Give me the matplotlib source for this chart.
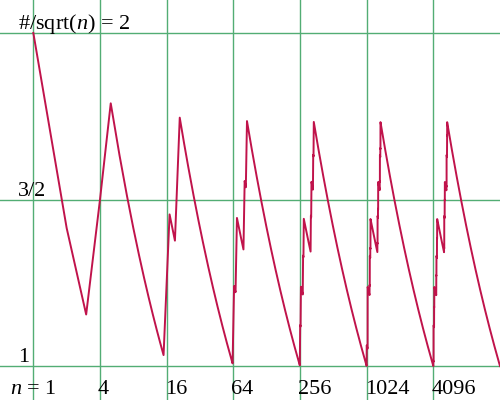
import numpy as np
import matplotlib.pyplot as plt

# n where the count "#" changes, and the count from that n on
run_start = [1,
             4, 5,
             16, 17, 20, 21,
             64, 65, 68, 69, 80, 81, 84, 85,
             256, 257, 260, 261, 272, 273, 276, 277,
             320, 321, 324, 325, 336, 337, 340, 341,
             1024, 1025, 1045, 1088, 1093, 1104, 1109,
             1280, 1285, 1296, 1301, 1344, 1349, 1360, 1365,
             4096, 4117, 4160, 4165, 4176, 4181,
             4352, 4357, 4368, 4373, 4416, 4421, 4432, 4437,
             5120, 5141, 5184, 5189, 5200, 5205,
             5376, 5397, 5440, 5445, 5456, 5461]
run_count = [2,
             3, 4,
             5, 6, 7, 8,
             9, 10, 11, 12, 13, 14, 15, 16,
             17, 18, 19, 20, 21, 22, 23, 24,
             25, 26, 27, 28, 29, 30, 31, 32,
             33, 34, 40, 41, 44, 45, 48,
             49, 52, 53, 56, 57, 60, 61, 64,
             65, 72, 73, 76, 77, 80,
             81, 84, 85, 88, 89, 92, 93, 96,
             97, 104, 105, 108, 109, 112,
             113, 120, 121, 124, 125, 128]
n_last = 16383

x_ticks = [1, 4, 16, 64, 256, 1024, 4096]
x_labels = ["$n$ = 1", "4", "16", "64", "256", "1024", "4096"]
y_ticks = [1, 1.5, 2]
y_labels = ["1", "3/2", "#/sqrt($n$) = 2"]

plt.rcParams['font.family'] = 'Liberation Serif'
plt.rcParams['mathtext.fontset'] = 'custom'
plt.rcParams['mathtext.rm'] = 'Liberation Serif'
plt.rcParams['mathtext.it'] = 'Liberation Serif:italic'

# expand the runs to every integer n
ends = run_start[1:] + [n_last + 1]
n_all, cnt_all = [], []
for s, e, c in zip(run_start, ends, run_count):
    nn = np.arange(s, e)
    n_all.append(nn)
    cnt_all.append(np.full(len(nn), c))
n_all = np.concatenate(n_all)
cnt_all = np.concatenate(cnt_all)
ratio = cnt_all / np.sqrt(n_all)

fig = plt.figure(figsize=(5, 4), dpi=100)
ax = fig.add_axes([0, 0, 1, 1])
ax.set_xscale('log', base=4)
ax.set_xlim(0.5, 16384)
ax.set_ylim(0.898, 2.099)
ax.axis('off')

grid_col = '#52ad74'
for t in x_ticks:
    ax.axvline(t, color=grid_col, lw=1.0, zorder=1)
for t in y_ticks:
    ax.axhline(t, color=grid_col, lw=1.0, zorder=1)

ax.plot(n_all, ratio, color='#c0134b', lw=1.4, zorder=2)

for i, (t, lab) in enumerate(zip(x_ticks, x_labels)):
    if i == 0:
        ax.annotate(lab, xy=(t, 0), xycoords=('data', 'axes fraction'),
                    xytext=(0, 6), textcoords='offset pixels',
                    ha='center', va='baseline', fontsize=16)
    else:
        ax.annotate(lab, xy=(t, 0), xycoords=('data', 'axes fraction'),
                    xytext=(-2, 6), textcoords='offset pixels',
                    ha='left', va='baseline', fontsize=16)

for t, lab in zip(y_ticks, y_labels):
    ax.annotate(lab, xy=(0.036, t), xycoords=('axes fraction', 'data'),
                xytext=(0, 4), textcoords='offset pixels',
                ha='left', va='baseline', fontsize=16)

fig.savefig('out.png', dpi=100)
